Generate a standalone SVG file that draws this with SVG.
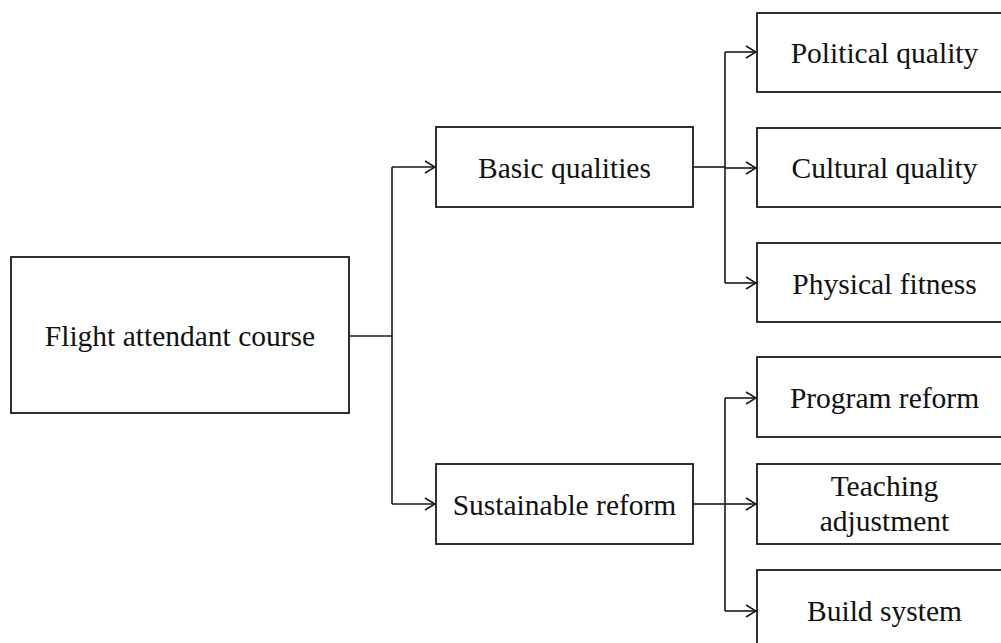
<svg xmlns="http://www.w3.org/2000/svg" width="1001" height="643" viewBox="0 0 1001 643">
<style>
rect.box{fill:#fff;stroke:#1a1a1a;stroke-width:1.8}
text{font-family:"Liberation Serif","Times New Roman",serif;font-size:29.5px;fill:#111;text-anchor:middle}
.c{fill:none;stroke:#1a1a1a;stroke-width:1.6}
</style>
<defs>
<marker id="arr" viewBox="0 0 12 14" refX="11" refY="7" markerWidth="12" markerHeight="14" markerUnits="userSpaceOnUse" orient="auto">
<path d="M1,1 L11,7 L1,13" fill="none" stroke="#1a1a1a" stroke-width="1.6"/>
</marker>
</defs>
<rect width="1001" height="643" fill="#fff"/>
<g id="connectors">
<path class="c" d="M349,336 H392"/>
<path class="c" d="M392,167 V504"/>
<path class="c" d="M392,167 H435" marker-end="url(#arr)"/>
<path class="c" d="M392,504 H435" marker-end="url(#arr)"/>
<path class="c" d="M693,167 H725"/>
<path class="c" d="M725,52 V283"/>
<path class="c" d="M725,52 H756" marker-end="url(#arr)"/>
<path class="c" d="M725,168 H756" marker-end="url(#arr)"/>
<path class="c" d="M725,283 H756" marker-end="url(#arr)"/>
<path class="c" d="M693,504 H725"/>
<path class="c" d="M725,398 V611"/>
<path class="c" d="M725,398 H756" marker-end="url(#arr)"/>
<path class="c" d="M725,504 H756" marker-end="url(#arr)"/>
<path class="c" d="M725,611 H756" marker-end="url(#arr)"/>
</g>
<g id="root"><rect class="box" x="11" y="257" width="338" height="156"/><text x="180" y="346">Flight attendant course</text></g>
<g id="basic"><rect class="box" x="436" y="127" width="257" height="80"/><text x="564.5" y="177.5">Basic qualities</text></g>
<g id="sustainable"><rect class="box" x="436" y="464" width="257" height="80"/><text x="564.5" y="514.5">Sustainable reform</text></g>
<g id="political"><rect class="box" x="757" y="13" width="255" height="79"/><text x="884.5" y="63">Political quality</text></g>
<g id="cultural"><rect class="box" x="757" y="128" width="255" height="79"/><text x="884.5" y="178">Cultural quality</text></g>
<g id="physical"><rect class="box" x="757" y="243" width="255" height="79"/><text x="884.5" y="293.5">Physical fitness</text></g>
<g id="program"><rect class="box" x="757" y="357" width="255" height="80"/><text x="884.5" y="407.5">Program reform</text></g>
<g id="teaching"><rect class="box" x="757" y="464" width="255" height="80"/><text x="884.5" y="495.5">Teaching</text><text x="884.5" y="531">adjustment</text></g>
<g id="build"><rect class="box" x="757" y="570" width="255" height="80"/><text x="884.5" y="621">Build system</text></g>
</svg>
